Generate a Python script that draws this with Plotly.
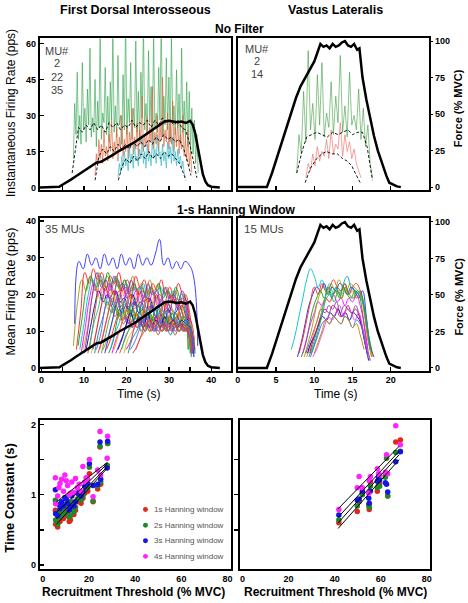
import plotly.graph_objects as go

W, H = 468, 603
FONT = "Liberation Sans, Arial, Helvetica, sans-serif"

# ======================= DATA =======================
# Force traces (% MVC)
fdi_force_t = [-0.5, 3.0, 4.2, 5, 6, 7, 8, 9, 10, 11, 12, 13, 14, 15, 16, 17, 18, 19, 20, 21, 22, 23, 24,
               25, 26, 27, 28, 29, 30, 31, 32, 33, 34, 35, 35.6, 36.2, 36.8, 37.4, 38, 38.6, 39.2, 40, 41, 42]
fdi_force = [0, 0, 0.5, 2, 3.5, 5.5, 7.5, 9.5, 11.5, 13.5, 15, 17, 17.5, 19, 21, 22.5, 24.5, 26, 27.5, 29.5,
             31, 33, 35, 36.5, 38.5, 40.5, 43, 45, 45.5, 45, 44.5, 45, 44, 45.5, 43, 37, 28, 17, 9, 4, 1.5,
             0.5, 0.3, 0]
vl_force_t = [0, 3.8, 4.5, 5.1, 5.8, 6.4, 7.0, 7.6, 8.2, 8.8, 9.4, 10.0, 10.4, 10.8, 11.2, 11.6, 12.0, 12.4,
              12.8, 13.2, 13.6, 14.0, 14.4, 14.8, 15.2, 15.6, 15.9, 16.3, 16.8, 17.3, 17.8, 18.3, 18.9, 19.4,
              19.8, 20.3, 20.8, 21.3]
vl_force = [0, 0, 10, 20, 31, 42, 52, 61, 69, 75, 80, 86, 92, 98, 96, 97, 95, 98, 96, 97, 99, 100, 97, 96,
            98, 94, 95, 75, 60, 47, 35, 25, 15, 8, 3, 1.5, 0.5, 0]

# Instantaneous firing rates (pps), sampled every SPIKE_STEP s from the start time
SPIKE_STEP = 0.3
fdi_mu2_t0 = 7.5
fdi_mu2_ifr = [12, 35, 22, 48, 20, 30, 18, 52, 24, 33, 19, 41, 26, 58, 21, 29, 23, 45, 17, 36,
               25, 64, 20, 31, 27, 50, 22, 38, 19, 44, 28, 66, 23, 34, 21, 55, 26, 30, 18, 47,
               24, 70, 22, 37, 27, 52, 20, 33, 25, 61, 23, 40, 19, 48, 29, 68, 24, 35, 22, 57,
               27, 42, 20, 65, 25, 31, 23, 50, 28, 72, 21, 38, 26, 54, 24, 46, 19, 63, 27, 34,
               22, 49, 25, 39, 18, 58, 23, 36, 20, 44, 17, 40, 15, 33, 14, 28, 10, 22, 6]
fdi_mu22_t0 = 12.6
fdi_mu22_ifr = [5, 14, 9, 20, 12, 18, 10, 24, 13, 17, 11, 22, 15, 28, 12, 19, 14, 25, 11, 21,
                16, 30, 13, 20, 15, 26, 12, 23, 17, 33, 14, 21, 16, 27, 13, 24, 18, 38, 15, 22,
                17, 29, 14, 25, 19, 42, 16, 23, 18, 30, 15, 26, 20, 46, 17, 24, 19, 31, 16, 27,
                18, 36, 15, 25, 17, 28, 14, 22, 16, 30, 13, 20, 11, 24, 9, 15, 6]
fdi_mu35_t0 = 18.0
fdi_mu35_ifr = [4, 10, 6, 13, 8, 15, 9, 12, 7, 17, 10, 14, 8, 19, 11, 13, 9, 16, 12, 21,
                10, 15, 8, 18, 11, 14, 9, 20, 12, 16, 10, 22, 13, 15, 9, 18, 11, 14, 8, 19,
                12, 17, 10, 21, 11, 15, 9, 16, 10, 13, 8, 11, 6, 4]
# smoothed rates (dashed)
fdi_mu2_sm_t = [7.2, 8.0, 8.7, 9.6, 10.5, 11.4, 12.3, 13.2, 14.1, 15.0, 15.9, 16.8, 17.7, 18.6, 19.5, 20.4,
                21.3, 22.2, 23.1, 24.0, 24.9, 25.8, 26.7, 27.6, 28.5, 29.4, 30.3, 31.2, 32.1, 33.0, 33.9,
                34.8, 35.7, 36.6]
fdi_mu2_sm = [6, 17, 25, 23, 26, 24, 27, 24, 26, 23, 27, 25, 27, 24, 26, 25, 28, 25, 27, 26, 28, 25, 28,
              26, 29, 27, 28, 26, 28, 25, 24, 19, 11, 4]
fdi_mu22_sm_t = [12.6, 13.5, 14.4, 15.3, 16.2, 17.1, 18.0, 18.9, 19.8, 20.7, 21.6, 22.5, 23.4, 24.3, 25.2,
                 26.1, 27.0, 27.9, 28.8, 29.7, 30.6, 31.5, 32.4, 33.3, 34.2, 35.2]
fdi_mu22_sm = [3, 13, 16, 14, 17, 15, 18, 16, 18, 16, 19, 17, 19, 17, 20, 18, 21, 19, 22, 20, 21, 19, 20,
               17, 12, 5]
fdi_mu35_sm_t = [18.1, 19.0, 19.9, 20.8, 21.7, 22.6, 23.5, 24.4, 25.3, 26.2, 27.1, 28.0, 28.9, 29.8, 30.7,
                 31.6, 32.5, 33.4, 34.0]
fdi_mu35_sm = [3, 9, 12, 10, 13, 11, 14, 12, 15, 12, 14, 12, 15, 13, 14, 12, 10, 6, 3]

vl_mu2_t0 = 7.7
vl_mu2_ifr = [6, 22, 14, 40, 19, 57, 24, 35, 20, 47, 26, 52, 21, 31, 25, 44, 22, 38, 27, 55,
              23, 34, 21, 48, 26, 30, 24, 41, 20, 33, 17, 26, 10, 4]
vl_mu14_t0 = 8.9
vl_mu14_ifr = [4, 10, 7, 14, 9, 17, 11, 15, 13, 20, 12, 24, 14, 18, 16, 27, 13, 22, 15, 19, 12, 16, 10, 7, 4]
vl_mu2_sm_t = [7.7, 8.4, 9.0, 9.7, 10.3, 11.0, 11.7, 12.4, 13.1, 13.7, 14.4, 15.0, 15.7, 16.3, 16.9, 17.6]
vl_mu2_sm = [6, 15, 21, 22, 23, 22, 21, 23, 22, 23, 24, 22, 23, 23, 17, 3]
vl_mu14_sm_t = [8.8, 9.5, 10.3, 11.0, 11.6, 12.3, 13.0, 13.7, 14.3, 14.9, 15.5, 16.0]
vl_mu14_sm = [2, 8, 12, 14, 15, 14, 14, 12, 11, 9, 5, 2]

# Mean firing rate (1-s Hanning), sampled every step from each MU's onset
FDI_MU_STEP = 1.0
fdi_mu_onsets = [7.5, 7.8, 8.2, 8.6, 9.0, 9.3, 9.7, 10.1, 10.5, 10.9, 11.3, 11.7, 12.1, 12.5, 12.9, 13.3,
                 13.7, 14.1, 14.5, 14.9, 15.3, 15.8, 16.2, 16.6, 17.1, 17.5, 18.0, 18.4, 18.9, 19.4, 19.9,
                 20.4, 20.9, 21.5, 22.2]
fdi_mu_rates = [
    [6, 18, 24, 21, 25, 22, 26, 23, 25, 22, 24, 21, 24, 22, 25, 21, 23, 20, 24, 21, 23, 20, 22, 19, 21, 18, 20, 5],
    [12, 29, 27, 31, 28, 30, 27, 31, 28, 30, 27, 31, 28, 30, 27, 31, 28, 30, 28, 31, 35, 28, 30, 27, 29, 27, 29, 28, 25, 6],
    [5, 15, 26, 23, 27, 24, 26, 22, 25, 23, 26, 22, 24, 21, 25, 22, 24, 20, 23, 21, 24, 20, 22, 19, 23, 20, 18, 4],
    [6, 14, 22, 25, 21, 24, 22, 26, 23, 25, 21, 24, 20, 23, 21, 22, 19, 22, 20, 23, 19, 21, 18, 22, 19, 17, 5],
    [5, 12, 20, 24, 22, 25, 21, 23, 20, 24, 21, 23, 19, 22, 20, 23, 19, 21, 18, 22, 20, 19, 21, 18, 20, 16, 4],
    [4, 11, 19, 23, 20, 22, 19, 23, 20, 21, 18, 22, 19, 21, 17, 20, 18, 21, 17, 19, 16, 20, 18, 17, 19, 15, 3],
    [5, 10, 18, 22, 19, 23, 20, 21, 18, 22, 19, 20, 17, 21, 18, 19, 16, 20, 17, 18, 15, 19, 17, 16, 18, 14, 4],
    [4, 12, 21, 26, 22, 24, 21, 25, 22, 23, 20, 24, 21, 22, 19, 23, 20, 21, 18, 22, 19, 20, 17, 21, 18, 5],
    [5, 11, 17, 21, 18, 20, 17, 21, 18, 19, 16, 20, 17, 18, 15, 19, 16, 17, 14, 18, 16, 15, 17, 14, 13, 4],
    [4, 10, 18, 24, 21, 23, 20, 24, 21, 22, 19, 23, 20, 21, 18, 22, 19, 20, 17, 21, 18, 19, 16, 20, 15, 4],
    [5, 12, 16, 20, 17, 19, 16, 20, 17, 18, 15, 19, 16, 17, 14, 18, 15, 16, 13, 17, 15, 14, 16, 12, 3],
    [4, 9, 15, 19, 16, 21, 17, 19, 16, 20, 17, 18, 15, 19, 16, 17, 14, 18, 15, 16, 13, 17, 14, 12, 4],
    [5, 11, 17, 22, 19, 21, 18, 22, 19, 20, 17, 21, 18, 19, 16, 20, 17, 18, 15, 19, 16, 17, 14, 13, 5],
    [4, 10, 14, 18, 15, 17, 14, 18, 15, 16, 13, 17, 14, 15, 12, 16, 13, 14, 12, 15, 13, 14, 11, 4],
    [5, 9, 16, 20, 17, 19, 16, 20, 17, 18, 15, 19, 16, 17, 14, 18, 15, 16, 13, 17, 14, 13, 12, 3],
    [4, 8, 13, 17, 14, 16, 13, 17, 14, 15, 12, 16, 13, 14, 12, 15, 13, 14, 11, 15, 12, 11, 4],
    [5, 10, 15, 19, 16, 18, 15, 19, 16, 17, 14, 18, 15, 16, 13, 17, 14, 15, 12, 16, 13, 12, 5],
    [4, 9, 14, 17, 14, 16, 13, 17, 14, 15, 12, 16, 13, 14, 11, 15, 12, 13, 11, 14, 12, 11, 4],
    [5, 8, 12, 16, 13, 15, 12, 16, 13, 14, 11, 15, 12, 13, 11, 14, 12, 13, 10, 14, 11, 4],
    [4, 9, 14, 18, 15, 17, 14, 18, 15, 16, 13, 17, 14, 15, 12, 16, 13, 14, 12, 13, 11, 3],
    [5, 8, 12, 15, 12, 14, 11, 15, 12, 13, 11, 14, 12, 13, 10, 14, 11, 12, 10, 12, 4],
    [4, 7, 13, 17, 14, 16, 13, 17, 14, 15, 12, 16, 13, 14, 11, 15, 12, 13, 11, 12, 5],
    [5, 9, 12, 15, 12, 14, 12, 15, 13, 14, 11, 15, 12, 13, 11, 14, 12, 11, 13, 11, 4],
    [4, 8, 11, 14, 12, 13, 11, 14, 12, 13, 10, 14, 11, 12, 10, 13, 11, 12, 10, 4],
    [5, 9, 13, 16, 13, 15, 12, 16, 13, 14, 12, 15, 13, 14, 11, 15, 12, 11, 12, 5],
    [4, 7, 10, 13, 11, 13, 10, 14, 11, 12, 10, 13, 11, 12, 10, 12, 11, 10, 4],
    [5, 8, 12, 15, 12, 14, 11, 15, 12, 13, 11, 14, 12, 13, 11, 13, 12, 11, 5],
    [4, 7, 10, 13, 11, 12, 10, 13, 11, 12, 10, 13, 11, 12, 10, 12, 10, 4],
    [5, 9, 11, 14, 12, 13, 11, 14, 12, 13, 11, 14, 12, 13, 11, 12, 11, 5],
    [4, 8, 10, 12, 10, 12, 10, 13, 11, 12, 10, 13, 11, 12, 10, 11, 4],
    [5, 7, 11, 13, 11, 12, 10, 14, 11, 12, 10, 13, 11, 12, 10, 11, 5],
    [4, 8, 10, 12, 10, 12, 10, 12, 10, 11, 9, 12, 10, 11, 10, 4],
    [5, 7, 10, 13, 11, 12, 10, 13, 11, 12, 10, 12, 11, 10, 11, 5],
    [4, 6, 9, 12, 10, 11, 9, 12, 10, 11, 9, 12, 10, 11, 4],
    [5, 8, 10, 13, 11, 12, 10, 12, 11, 12, 10, 11, 10, 5],
]
VL_MU_STEP = 0.5
vl_mu_onsets = [7.0, 7.8, 8.0, 8.3, 8.5, 8.7, 8.9, 9.0, 9.1, 9.3, 9.4, 9.5, 9.6, 9.8, 10.0]
vl_mu_rates = [
    [5, 9, 14, 19, 24, 27, 25, 22, 24, 21, 23, 20, 22, 21, 23, 20, 22, 19, 21, 17, 10, 4],
    [3, 7, 12, 17, 20, 22, 21, 23, 20, 22, 21, 23, 22, 20, 22, 21, 19, 21, 14, 6, 3],
    [4, 8, 13, 18, 22, 20, 23, 21, 22, 24, 22, 21, 23, 20, 22, 23, 21, 16, 8, 3],
    [3, 6, 11, 16, 19, 21, 19, 22, 20, 21, 19, 22, 20, 19, 21, 20, 15, 7, 2],
    [4, 8, 12, 15, 18, 17, 19, 18, 20, 18, 19, 17, 19, 18, 20, 17, 12, 5],
    [3, 7, 11, 16, 20, 22, 20, 23, 21, 24, 22, 21, 23, 22, 21, 19, 14, 6, 3],
    [4, 7, 10, 13, 16, 15, 17, 16, 18, 15, 17, 16, 15, 17, 14, 9, 4],
    [3, 6, 10, 14, 17, 19, 18, 20, 21, 19, 22, 20, 21, 19, 20, 15, 8, 3],
    [4, 7, 9, 12, 14, 13, 15, 14, 16, 14, 15, 13, 15, 14, 12, 7, 2],
    [3, 6, 10, 14, 18, 21, 19, 22, 20, 23, 25, 22, 21, 20, 18, 12, 5],
    [4, 8, 11, 14, 16, 15, 17, 16, 14, 15, 17, 15, 16, 14, 10, 4],
    [3, 6, 9, 12, 13, 12, 14, 13, 12, 14, 13, 11, 13, 12, 8, 3],
    [4, 7, 11, 15, 19, 20, 18, 21, 19, 22, 20, 19, 21, 20, 16, 9, 4],
    [3, 5, 8, 11, 14, 13, 15, 17, 14, 16, 15, 13, 15, 11, 6, 2],
    [4, 7, 10, 13, 12, 14, 13, 12, 14, 13, 11, 12, 9, 5],
]

# Time constants vs recruitment threshold
fdi_rt = [5.5, 5.6, 6.5, 7.0, 7.5, 8.2, 9.0, 9.6, 10.2, 10.8, 11.5, 12.0, 12.6, 13.5, 14.2, 15.0, 15.8,
          16.6, 17.4, 18.2, 18.8, 19.5, 20.2, 21.8, 23.8, 24.8, 25.1, 27.9, 28.1]
fdi_tau_1s = [0.78, 0.58, 0.54, 0.70, 0.62, 0.72, 0.66, 0.80, 0.75, 0.70, 0.62, 0.64, 0.85, 0.72, 0.78,
              0.90, 0.92, 0.88, 0.95, 1.02, 1.10, 1.05, 1.30, 0.90, 1.08, 1.68, 1.15, 1.40, 1.73]
fdi_tau_2s = [0.92, 0.64, 0.58, 0.76, 0.68, 0.78, 0.72, 0.86, 0.82, 0.76, 0.68, 0.70, 0.90, 0.76, 0.82,
              0.94, 0.96, 0.92, 0.98, 1.06, 1.14, 1.10, 1.39, 0.91, 1.12, 1.69, 1.18, 1.42, 1.73]
fdi_tau_3s = [1.07, 0.73, 0.70, 0.86, 0.80, 0.90, 0.84, 0.96, 0.94, 0.88, 0.78, 0.82, 0.98, 0.84, 0.90,
              1.02, 1.04, 0.98, 1.04, 1.12, 1.18, 1.16, 1.44, 1.13, 1.15, 1.75, 1.22, 1.38, 1.76]
fdi_tau_4s = [1.24, 0.87, 0.98, 1.10, 1.16, 1.22, 1.05, 1.28, 1.20, 1.13, 1.00, 1.02, 1.18, 1.03, 1.23,
              1.10, 1.15, 1.05, 1.40, 1.18, 1.24, 1.22, 1.50, 0.97, 1.35, 1.90, 1.28, 1.52, 1.83]
vl_rt = [41.8, 49.8, 50.6, 52.0, 54.8, 55.0, 55.5, 58.5, 59.0, 59.5, 62.0, 62.5, 63.0, 66.5, 68.5]
vl_tau_1s = [0.60, 0.76, 0.90, 1.02, 0.85, 0.79, 1.18, 1.05, 1.20, 1.16, 1.27, 1.30, 0.98, 1.75, 1.78]
vl_tau_2s = [0.64, 0.84, 0.92, 1.00, 0.86, 0.82, 1.12, 1.10, 1.13, 1.12, 1.25, 1.52, 0.98, 1.60, 1.62]
vl_tau_3s = [0.71, 0.92, 0.94, 1.05, 0.95, 0.88, 1.05, 1.19, 1.25, 1.21, 1.17, 1.15, 1.04, 1.47, 1.61]
vl_tau_4s = [0.79, 1.10, 1.26, 1.10, 1.02, 1.20, 1.26, 1.37, 1.30, 1.28, 1.32, 1.57, 1.30, 1.98, 1.71]
# regression line end points
fdi_fit_x = [6, 28]
fdi_fit_1s = [0.58, 1.38]
fdi_fit_2s = [0.66, 1.40]
fdi_fit_3s = [0.75, 1.44]
fdi_fit_4s = [0.90, 1.46]
vl_fit_x = [41.5, 68]
vl_fit_1s = [0.52, 1.50]
vl_fit_2s = [0.60, 1.57]
vl_fit_3s = [0.68, 1.62]
vl_fit_4s = [0.80, 1.69]

window_labels = ["1s Hanning window", "2s Hanning window", "3s Hanning window", "4s Hanning window"]

# ======================= STYLE =======================
window_colors = ["#e8231c", "#1f8a24", "#1515e6", "#ff22ff"]
fdi_palette = ["#9a9a00", "#2a2aff", "#ff1a1a", "#00a020", "#00b8c8", "#ff00ff", "#ff8c00", "#7b2fd0",
               "#0000a0", "#c05020", "#20c080", "#d0c000", "#e0007a", "#008c8c", "#5a5aff", "#a0522d",
               "#ff4040", "#40a040"]
vl_palette = ["#00c0c0", "#2020ff", "#ff2020", "#00a000", "#ff00ff", "#a0a000", "#8040c0", "#ff8000",
              "#0000a0", "#00a0a0", "#c00060", "#4060ff", "#20a040", "#e040e0", "#c08000"]


def times(t0, step, vals):
    return [round(t0 + step * i, 3) for i in range(len(vals))]


fig = go.Figure()


def line(x, y, xa, ya, color, width=1.0, dash=None, shape="linear", smoothing=None):
    ln = dict(color=color, width=width, dash=dash, shape=shape)
    if smoothing is not None:
        ln["smoothing"] = smoothing
    fig.add_trace(go.Scatter(x=x, y=y, xaxis=xa, yaxis=ya, mode="lines", showlegend=False,
                             hoverinfo="skip", line=ln))


# ---- top-left: FDI, no filter ----
line(times(fdi_mu2_t0, SPIKE_STEP, fdi_mu2_ifr), fdi_mu2_ifr, "x", "y", "rgba(40,160,70,0.6)", 1.0)
line(times(fdi_mu22_t0, SPIKE_STEP, fdi_mu22_ifr), fdi_mu22_ifr, "x", "y", "rgba(225,95,50,0.65)", 1.0)
line(times(fdi_mu35_t0, SPIKE_STEP, fdi_mu35_ifr), fdi_mu35_ifr, "x", "y", "rgba(40,185,200,0.65)", 1.0)
for tt, vv in [(fdi_mu2_sm_t, fdi_mu2_sm), (fdi_mu22_sm_t, fdi_mu22_sm), (fdi_mu35_sm_t, fdi_mu35_sm)]:
    line(tt, vv, "x", "y", "black", 0.9, "3px,2px")
line(fdi_force_t, fdi_force, "x", "y2", "black", 2.5)

# ---- top-right: VL, no filter ----
line(times(vl_mu2_t0, SPIKE_STEP, vl_mu2_ifr), vl_mu2_ifr, "x2", "y3", "rgba(50,150,50,0.55)", 1.0)
line(times(vl_mu14_t0, SPIKE_STEP, vl_mu14_ifr), vl_mu14_ifr, "x2", "y3", "rgba(240,100,100,0.6)", 1.0)
for tt, vv in [(vl_mu2_sm_t, vl_mu2_sm), (vl_mu14_sm_t, vl_mu14_sm)]:
    line(tt, vv, "x2", "y3", "black", 0.9, "3px,2px")
line(vl_force_t, vl_force, "x2", "y4", "black", 2.5)

# ---- middle-left: FDI, 1-s Hanning ----
for i, (t0, vals) in enumerate(zip(fdi_mu_onsets, fdi_mu_rates)):
    line(times(t0, FDI_MU_STEP, vals), vals, "x3", "y5", fdi_palette[i % len(fdi_palette)], 0.9,
         shape="spline", smoothing=1.2)
line(fdi_force_t, fdi_force, "x3", "y6", "black", 2.5)

# ---- middle-right: VL, 1-s Hanning ----
for i, (t0, vals) in enumerate(zip(vl_mu_onsets, vl_mu_rates)):
    line(times(t0, VL_MU_STEP, vals), vals, "x4", "y7", vl_palette[i % len(vl_palette)], 0.9,
         shape="spline", smoothing=1.2)
line(vl_force_t, vl_force, "x4", "y8", "black", 2.5)

# ---- bottom: time constants ----
fdi_taus = [fdi_tau_1s, fdi_tau_2s, fdi_tau_3s, fdi_tau_4s]
vl_taus = [vl_tau_1s, vl_tau_2s, vl_tau_3s, vl_tau_4s]
for k in range(4):
    fig.add_trace(go.Scatter(x=fdi_rt, y=fdi_taus[k], xaxis="x5", yaxis="y9", mode="markers",
                             showlegend=False, name=window_labels[k],
                             marker=dict(color=window_colors[k], size=5.5)))
    fig.add_trace(go.Scatter(x=vl_rt, y=vl_taus[k], xaxis="x6", yaxis="y10", mode="markers",
                             showlegend=False, name=window_labels[k],
                             marker=dict(color=window_colors[k], size=5.5)))
for f in [fdi_fit_1s, fdi_fit_2s, fdi_fit_3s, fdi_fit_4s]:
    line(fdi_fit_x, f, "x5", "y9", "black", 1.0)
for f in [vl_fit_1s, vl_fit_2s, vl_fit_3s, vl_fit_4s]:
    line(vl_fit_x, f, "x6", "y10", "black", 1.0)

# ======================= LAYOUT =======================
def px(p):
    return p / W


def py(p):
    return 1 - p / H


L_DOM = [px(37.3), px(230.3)]
R_DOM = [px(237.3), px(430.7)]
RB_DOM = [px(239.3), px(431.7)]
TOP = [py(189.3), py(36.7)]
MID = [py(371.7), py(218.3)]
BOT = [py(571.7), py(421.7)]

TICKFONT = dict(family=FONT, size=9, color="black", weight="bold")
frame = dict(showline=True, linecolor="black", linewidth=2, mirror=True, showgrid=False, zeroline=False,
             tickcolor="black", tickwidth=1.3, tickfont=TICKFONT)
hidden = dict(visible=False, showgrid=False, zeroline=False)

fig.update_layout(
    width=W, height=H, margin=dict(l=0, r=0, t=0, b=0),
    paper_bgcolor="white", plot_bgcolor="white", showlegend=False,
    font=dict(family=FONT),
    xaxis=dict(domain=L_DOM, anchor="y", range=[-0.4, 44.6], tickvals=[5, 10, 15, 20, 25, 30, 35, 40],
               showticklabels=False, ticks="inside", ticklen=4, **frame),
    yaxis=dict(domain=TOP, anchor="x", range=[-0.95, 62.1], tickvals=[0, 15, 30, 45, 60],
               ticks="inside", ticklen=4, **frame),
    yaxis2=dict(overlaying="y", anchor="x", range=[-1.6, 101.8], **hidden),
    xaxis2=dict(domain=R_DOM, anchor="y3", range=[0, 25], tickvals=[5, 10, 15, 20],
                showticklabels=False, ticks="inside", ticklen=4, **frame),
    yaxis3=dict(domain=TOP, anchor="x2", range=[-0.95, 62.1], showticklabels=False, ticks="", **frame),
    yaxis4=dict(overlaying="y3", anchor="x2", side="right", range=[-1.8, 101.8],
                tickvals=[0, 25, 50, 75, 100], ticks="outside", ticklen=3, tickcolor="black",
                showline=False, showgrid=False, zeroline=False, tickfont=TICKFONT),
    xaxis3=dict(domain=L_DOM, anchor="y5", range=[-0.4, 44.6], tickvals=[0, 5, 10, 15, 20, 25, 30, 35, 40],
                ticktext=["0", "", "10", "", "20", "", "30", "", "40"], ticks="inside", ticklen=4, **frame),
    yaxis5=dict(domain=MID, anchor="x3", range=[-0.73, 40.7], tickvals=[0, 10, 20, 30, 40],
                ticks="inside", ticklen=4, **frame),
    yaxis6=dict(overlaying="y5", anchor="x3", range=[-1.8, 102.4], **hidden),
    xaxis4=dict(domain=R_DOM, anchor="y7", range=[0, 25], tickvals=[0, 5, 10, 15, 20],
                ticks="inside", ticklen=4, **frame),
    yaxis7=dict(domain=MID, anchor="x4", range=[-0.73, 40.7], showticklabels=False, ticks="", **frame),
    yaxis8=dict(overlaying="y7", anchor="x4", side="right", range=[-1.8, 102.4],
                tickvals=[0, 25, 50, 75, 100], ticks="outside", ticklen=3, tickcolor="black",
                showline=False, showgrid=False, zeroline=False, tickfont=TICKFONT),
    xaxis5=dict(domain=L_DOM, anchor="y9", range=[-1.2, 81.4], tickvals=[0, 20, 40, 60, 80], ticks="",
                **frame),
    yaxis9=dict(domain=BOT, anchor="x5", range=[-0.056, 2.06], tickvals=[0, 0.5, 1, 1.5, 2],
                ticktext=["0", "", "1", "", "2"], ticks="inside", ticklen=4, **frame),
    xaxis6=dict(domain=RB_DOM, anchor="y10", range=[-1.2, 81.4], tickvals=[0, 20, 40, 60, 80], ticks="",
                **frame),
    yaxis10=dict(domain=BOT, anchor="x6", range=[-0.056, 2.06], tickvals=[0.5, 1, 1.5],
                 showticklabels=False, ticks="outside", ticklen=4, **frame),
)

anns = []


def ann(text, x, y, size, bold=False, color="black", angle=0, xanchor="center"):
    anns.append(dict(text=text, x=px(x), y=py(y), xref="paper", yref="paper", showarrow=False,
                     xanchor=xanchor, yanchor="middle", textangle=angle,
                     font=dict(family=FONT, size=size, color=color, weight="bold" if bold else "normal")))


ann("First Dorsal Interosseous", 134, 8, 12.5, True)
ann("Vastus Lateralis", 336, 8, 12.5, True)
ann("No Filter", 239, 27, 12, True)
ann("1-s Hanning Window", 236, 210, 12, True)
ann("Instantaneous Firing Rate (pps)", 8, 112, 12, False, angle=-90)
ann("Mean Firing Rate (pps)", 8, 292, 12.5, False, angle=-90)
ann("Time Constant (s)", 7, 500, 13, True, angle=-90)
ann("Force (% MVC)", 460, 107, 11, True, angle=-90)
ann("Force (% MVC)", 460, 297, 11, True, angle=-90)
ann("Time (s)", 137, 395, 12)
ann("Time (s)", 337, 395, 12)
ann("Recruitment Threshold (% MVC)", 132, 595, 12, True)
ann("Recruitment Threshold (% MVC)", 336, 595, 12, True)
for txt, yy in [("MU#", 49), ("2", 62), ("22", 75.5), ("35", 89)]:
    ann(txt, 55, yy, 11, False, "#444444")
for txt, yy in [("MU#", 47), ("2", 59.5), ("14", 72.5)]:
    ann(txt, 257, yy, 11, False, "#444444")
ann("35 MUs", 63, 229, 11.5, False, "#444444")
ann("15 MUs", 264, 229, 11.5, False, "#444444")

legend_y = [511.7, 527.7, 543.3, 559]
shapes = []
for k in range(4):
    ann(window_labels[k], 151, legend_y[k], 8, False, "#555555", xanchor="left")
    shapes.append(dict(type="circle", xref="paper", yref="paper", x0=px(141.5), x1=px(146.5),
                       y0=py(legend_y[k] + 2.5), y1=py(legend_y[k] - 2.5),
                       fillcolor=window_colors[k], line=dict(width=0)))

fig.update_layout(annotations=anns, shapes=shapes)
# remove the browser's default 8px body margin so the 468x603 figure fills the window exactly
fig.write_html("out.html",
               config={"displayModeBar": False, "staticPlot": True},
               post_script="document.body.style.margin='0';document.body.style.padding='0';"
                           "document.documentElement.style.overflow='hidden';")
